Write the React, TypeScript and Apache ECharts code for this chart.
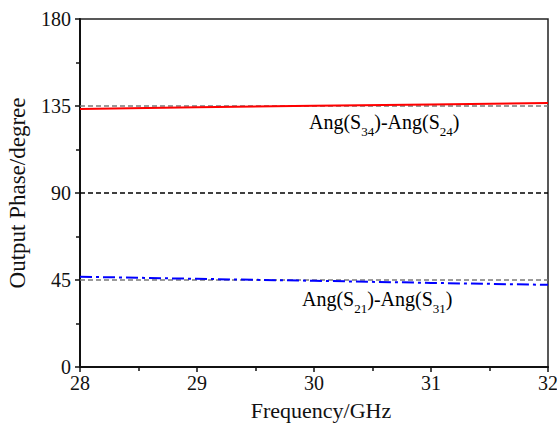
import React, { useEffect, useRef } from "react";
import * as echarts from "echarts";

const freq = [28, 29, 30, 31, 32];
const phase34_24 = [133.5, 134.3, 135.1, 135.8, 136.5];
const phase21_31 = [46.7, 45.6, 44.6, 43.5, 42.5];
const refLevels = [45, 90, 135];
const xRange = [28, 32];
const yRange = [0, 180];
const labelTop = ["Ang(S", "34", ")-Ang(S", "24", ")"];
const labelBottom = ["Ang(S", "21", ")-Ang(S", "31", ")"];

const FONT = "Liberation Serif";

function richLabel(parts: string[]) {
  return parts.map((p, i) => (i % 2 === 1 ? `{s|${p}}` : `{m|${p}}`)).join("");
}

export default function App() {
  const ref = useRef<HTMLDivElement>(null);
  useEffect(() => {
    if (!ref.current) return;
    const chart = echarts.init(ref.current, undefined, { renderer: "svg" });
    const refSeries = refLevels.map((v) => ({
      type: "line",
      data: [
        [xRange[0], v],
        [xRange[1], v],
      ],
      symbol: "none",
      silent: true,
      z: 1,
      lineStyle: {
        color: v === 90 ? "#000" : "#7a7a7a",
        width: 1.3,
        type: [5, 3],
      },
    }));
    const rich = {
      m: { fontFamily: FONT, fontSize: 20, color: "#111", lineHeight: 26, verticalAlign: "top" },
      s: { fontFamily: FONT, fontSize: 13, color: "#111", lineHeight: 26, verticalAlign: "bottom" },
    };
    chart.setOption({
      animation: false,
      backgroundColor: "#fff",
      textStyle: { fontFamily: FONT },
      grid: {
        left: 80,
        right: 9,
        top: 19,
        bottom: 56,
        show: true,
        borderColor: "#222",
        borderWidth: 1.5,
        containLabel: false,
        outerBoundsMode: "none",
      },
      xAxis: {
        type: "value",
        min: xRange[0],
        max: xRange[1],
        interval: 1,
        name: "Frequency/GHz",
        nameLocation: "middle",
        nameGap: 32,
        nameTextStyle: { fontFamily: FONT, fontSize: 22, color: "#111", padding: [0, 0, 0, 14] },
        axisLine: { show: true, onZero: false, lineStyle: { color: "#111", width: 2 } },
        axisTick: { show: true, inside: false, length: 5, lineStyle: { color: "#111", width: 1.5 } },
        minorTick: { show: true, splitNumber: 2, length: 4, lineStyle: { color: "#111", width: 1.5 } },
        splitLine: { show: false },
        axisLabel: { fontFamily: FONT, fontSize: 20, color: "#111", margin: 6 },
      },
      yAxis: {
        type: "value",
        min: yRange[0],
        max: yRange[1],
        interval: 45,
        name: "Output Phase/degree",
        nameLocation: "middle",
        nameGap: 51,
        nameTextStyle: { fontFamily: FONT, fontSize: 23, color: "#111" },
        axisLine: { show: true, onZero: false, lineStyle: { color: "#111", width: 2 } },
        axisTick: { show: true, inside: false, length: 5, lineStyle: { color: "#111", width: 1.5 } },
        minorTick: { show: true, splitNumber: 2, length: 4, lineStyle: { color: "#111", width: 1.5 } },
        splitLine: { show: false },
        axisLabel: { fontFamily: FONT, fontSize: 20, color: "#111", margin: 9 },
      },
      series: [
        ...refSeries,
        {
          type: "line",
          name: "Ang(S34)-Ang(S24)",
          data: freq.map((f, i) => [f, phase34_24[i]]),
          symbol: "none",
          z: 3,
          lineStyle: { color: "#ff0000", width: 2 },
        },
        {
          type: "line",
          name: "Ang(S21)-Ang(S31)",
          data: freq.map((f, i) => [f, phase21_31[i]]),
          symbol: "none",
          z: 3,
          lineStyle: { color: "#0000ff", width: 2, type: [12, 4, 3, 4] },
        },
      ],
      graphic: [
        {
          type: "text",
          left: 309,
          top: 112,
          style: { text: richLabel(labelTop), rich },
        },
        {
          type: "text",
          left: 302,
          top: 289,
          style: { text: richLabel(labelBottom), rich },
        },
      ],
    });
    return () => chart.dispose();
  }, []);
  return (
    <div
      ref={ref}
      style={{ position: "fixed", left: 0, top: 0, width: 557, height: 423, background: "#fff" }}
    />
  );
}
